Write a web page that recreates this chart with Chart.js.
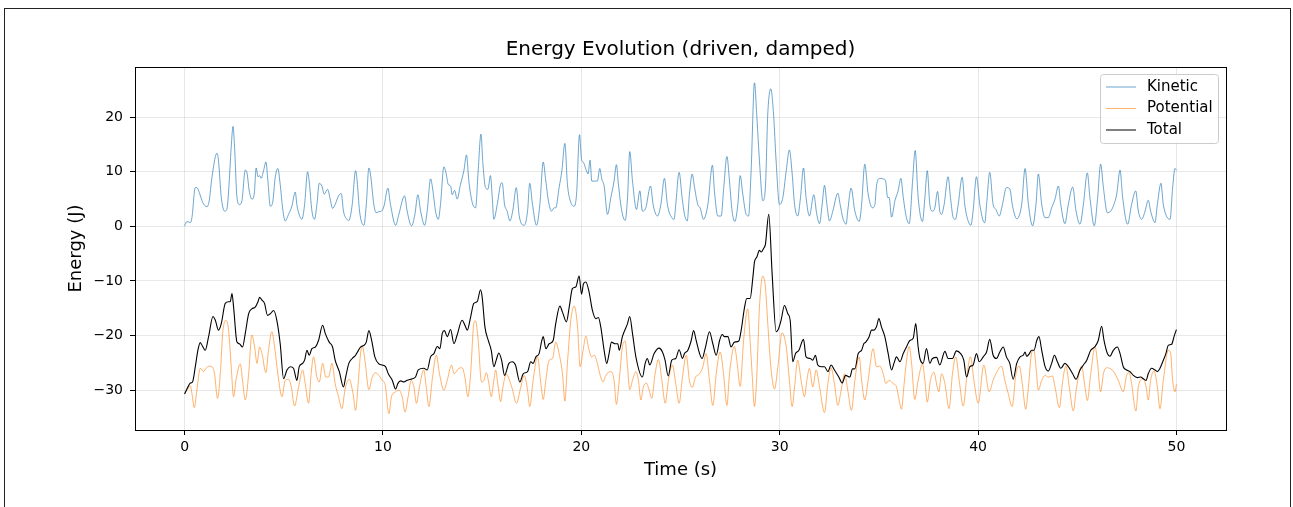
<!DOCTYPE html>
<html>
<head>
<meta charset="utf-8">
<script src="https://cdn.jsdelivr.net/npm/chart.js@4.4.0/dist/chart.umd.min.js"></script>
<style>
html, body { margin: 0; padding: 0; background: #fff; }
#wrap { position: relative; width: 1293px; height: 507px; overflow: hidden; }
#frame { position: absolute; left: 4px; top: 8px; width: 1285px; height: 600px; border: 1px solid #222; }
#energyChart { position: absolute; left: 0; top: 0; }
</style>
</head>
<body>
<div id="wrap">
  <div id="frame"></div>
  <canvas id="energyChart" width="1293" height="507"></canvas>
</div>
<script>
// values: [time (s), energy (J)]
const kineticPts = [[0,0.1],[0.12,0.9],[0.29,0.7],[0.37,1.6],[0.54,7.1],[0.62,7.1],[0.74,6.2],[0.91,4.4],[1.13,3.6],[1.24,4.7],[1.38,9.0],[1.63,13.4],[1.71,12.0],[1.85,5.3],[2.02,2.8],[2.13,3.1],[2.22,6.5],[2.35,14.5],[2.44,18.3],[2.52,14.5],[2.64,5.3],[2.77,4.0],[2.89,4.7],[3.06,10.3],[3.14,9.9],[3.26,6.5],[3.39,5.0],[3.51,5.9],[3.61,10.7],[3.70,9.1],[3.78,9.3],[3.86,8.8],[3.98,10.2],[4.10,11.8],[4.20,8.3],[4.32,3.7],[4.44,4.4],[4.57,9.0],[4.70,10.6],[4.82,7.7],[4.94,3.4],[5.07,1.0],[5.24,2.2],[5.41,3.7],[5.58,6.3],[5.66,4.0],[5.75,2.5],[5.91,1.3],[6.05,4.0],[6.20,10.0],[6.28,8.3],[6.42,2.8],[6.55,1.3],[6.67,4.0],[6.79,7.9],[6.92,7.4],[7.04,5.9],[7.21,6.8],[7.34,5.0],[7.46,3.3],[7.59,4.0],[7.76,5.6],[7.90,6.0],[8.01,2.8],[8.18,1.3],[8.28,1.1],[8.45,4.0],[8.62,10.2],[8.70,8.3],[8.82,2.8],[9.04,0.2],[9.16,4.0],[9.29,10.7],[9.37,9.6],[9.54,4.0],[9.66,2.5],[9.80,2.7],[9.93,2.8],[10.05,3.7],[10.25,7.0],[10.38,4.0],[10.64,0.2],[10.80,2.2],[11.09,5.6],[11.22,2.8],[11.44,0.1],[11.61,2.2],[11.76,5.8],[11.90,2.8],[12.10,0.2],[12.23,2.8],[12.40,8.7],[12.52,6.5],[12.65,2.8],[12.79,1.3],[12.90,4.0],[13.07,10.9],[13.19,9.6],[13.29,7.7],[13.41,7.4],[13.49,5.8],[13.61,6.6],[13.74,5.0],[13.91,7.7],[14.08,10.2],[14.21,13.1],[14.33,8.3],[14.50,4.4],[14.67,3.4],[14.80,10.2],[14.94,16.9],[15.04,11.4],[15.17,7.1],[15.29,6.8],[15.42,9.3],[15.51,5.3],[15.59,1.3],[15.76,4.0],[15.93,7.7],[16.01,8.0],[16.13,4.0],[16.26,2.8],[16.40,1.0],[16.55,3.0],[16.72,7.1],[16.87,1.9],[17.12,0.2],[17.29,2.8],[17.40,7.9],[17.54,4.0],[17.74,0.2],[17.91,4.0],[18.08,11.8],[18.21,8.3],[18.34,4.7],[18.50,2.8],[18.63,3.4],[18.71,3.4],[18.88,7.1],[19.02,10.2],[19.17,15.2],[19.30,7.7],[19.47,4.4],[19.64,3.7],[19.76,5.9],[19.91,16.8],[20.01,12.3],[20.11,11.7],[20.23,10.5],[20.34,9.6],[20.44,12.1],[20.53,8.3],[20.65,8.3],[20.81,8.3],[20.93,10.6],[21.03,8.7],[21.15,7.4],[21.32,2.2],[21.49,5.3],[21.65,8.3],[21.77,11.3],[21.87,7.7],[22.04,2.8],[22.21,1.1],[22.33,5.3],[22.44,13.7],[22.58,8.3],[22.78,3.1],[22.95,6.5],[23.08,2.8],[23.25,3.4],[23.49,7.4],[23.62,4.0],[23.84,1.9],[24.01,4.0],[24.19,8.8],[24.34,4.0],[24.56,1.6],[24.68,1.3],[24.76,4.0],[24.93,9.9],[25.08,5.3],[25.20,2.2],[25.34,1.0],[25.45,5.9],[25.59,9.6],[25.71,7.1],[25.87,4.0],[25.99,3.4],[26.16,1.3],[26.38,4.0],[26.61,11.2],[26.71,6.5],[26.88,1.9],[27.05,1.9],[27.18,7.1],[27.34,12.8],[27.47,8.3],[27.60,2.8],[27.74,0.9],[27.89,4.0],[28.01,9.3],[28.14,5.9],[28.31,2.2],[28.43,1.9],[28.56,10.2],[28.73,26.3],[28.85,20.0],[28.98,12.0],[29.15,4.7],[29.28,7.1],[29.40,20.6],[29.55,25.2],[29.69,20.6],[29.82,12.0],[29.99,4.0],[30.16,5.3],[30.33,10.2],[30.49,14.0],[30.63,9.6],[30.75,4.0],[30.91,1.9],[31.05,5.3],[31.20,10.7],[31.33,5.3],[31.50,1.9],[31.72,5.8],[31.87,2.2],[32.01,0.5],[32.14,4.0],[32.26,7.5],[32.38,4.0],[32.51,1.0],[32.68,2.8],[32.93,6.1],[33.05,4.0],[33.18,1.6],[33.35,0.4],[33.43,2.8],[33.60,7.0],[33.79,2.8],[34.01,0.9],[34.13,4.0],[34.29,11.4],[34.46,5.9],[34.68,3.4],[34.80,4.0],[34.88,7.4],[35.05,8.8],[35.22,8.7],[35.34,8.3],[35.44,5.3],[35.52,5.3],[35.64,1.7],[35.81,4.7],[35.97,6.5],[36.11,8.8],[36.23,5.3],[36.39,1.6],[36.53,0.5],[36.70,8.3],[36.83,13.9],[36.98,5.3],[37.20,0.9],[37.32,5.3],[37.44,10.2],[37.57,4.0],[37.70,2.8],[37.82,3.4],[37.96,6.4],[38.07,2.8],[38.16,2.2],[38.29,4.0],[38.49,9.1],[38.61,5.3],[38.75,1.6],[38.86,1.3],[39.00,4.0],[39.20,9.0],[39.33,4.0],[39.50,1.0],[39.64,0.2],[39.75,2.8],[39.92,9.1],[40.09,4.0],[40.26,1.0],[40.34,0.7],[40.43,4.0],[40.59,9.9],[40.76,4.0],[40.90,3.1],[41.07,1.9],[41.23,4.0],[41.43,7.1],[41.60,6.9],[41.74,3.7],[41.95,1.4],[42.20,4.0],[42.37,10.6],[42.54,4.0],[42.75,0.1],[42.92,4.0],[43.04,9.6],[43.21,4.0],[43.38,1.6],[43.54,1.6],[43.71,3.4],[43.88,5.0],[44.05,7.4],[44.17,4.0],[44.38,0.5],[44.55,4.0],[44.77,7.2],[44.94,2.8],[45.14,0.4],[45.31,4.0],[45.51,9.8],[45.64,5.3],[45.86,0.1],[46.03,5.3],[46.18,11.4],[46.32,7.1],[46.52,2.5],[46.69,2.8],[46.85,4.0],[46.99,5.9],[47.16,10.3],[47.29,5.3],[47.54,0.4],[47.74,4.0],[47.95,6.5],[48.08,2.8],[48.25,1.3],[48.42,2.8],[48.58,4.8],[48.70,2.8],[48.92,0.7],[49.04,4.0],[49.22,7.9],[49.34,4.0],[49.68,1.3],[49.81,7.1],[49.93,10.6],[50.0,10.3]];

const potentialPts = [[0,-30.7],[0.17,-29.7],[0.29,-29.2],[0.37,-30.6],[0.49,-33.2],[0.62,-30.0],[0.79,-26.0],[0.96,-26.6],[1.08,-26.0],[1.21,-25.6],[1.38,-25.7],[1.51,-27.0],[1.66,-31.5],[1.80,-27.0],[1.92,-19.6],[2.08,-17.2],[2.22,-19.0],[2.35,-25.7],[2.47,-31.2],[2.59,-28.2],[2.81,-25.2],[2.92,-28.2],[3.06,-31.8],[3.23,-27.0],[3.39,-19.9],[3.53,-22.1],[3.65,-25.1],[3.78,-22.1],[3.90,-23.3],[4.10,-26.8],[4.23,-22.7],[4.40,-19.3],[4.54,-22.1],[4.70,-27.0],[4.91,-31.2],[5.07,-28.2],[5.24,-28.0],[5.38,-29.4],[5.54,-32.9],[5.75,-29.4],[5.95,-26.3],[6.08,-28.8],[6.25,-32.4],[6.38,-27.0],[6.50,-23.9],[6.67,-27.6],[6.79,-28.5],[6.96,-25.1],[7.12,-27.6],[7.26,-27.6],[7.43,-25.1],[7.59,-28.8],[7.76,-31.2],[7.93,-33.4],[8.10,-29.6],[8.30,-28.0],[8.49,-30.6],[8.62,-33.7],[8.75,-28.8],[8.87,-23.3],[8.96,-22.0],[9.09,-24.5],[9.29,-29.9],[9.46,-27.6],[9.63,-26.8],[9.80,-27.3],[9.96,-28.2],[10.10,-28.8],[10.30,-34.3],[10.43,-31.2],[10.64,-30.3],[10.80,-30.0],[10.97,-31.2],[11.11,-34.0],[11.27,-31.2],[11.42,-28.2],[11.56,-29.4],[11.69,-32.4],[11.84,-29.4],[12.06,-26.3],[12.18,-29.4],[12.32,-33.0],[12.48,-28.2],[12.69,-23.6],[12.85,-27.0],[13.07,-30.0],[13.24,-28.2],[13.46,-25.4],[13.58,-27.0],[13.83,-26.0],[13.99,-25.9],[14.13,-27.6],[14.28,-31.2],[14.42,-27.0],[14.58,-17.8],[14.67,-17.3],[14.80,-20.9],[14.97,-28.5],[15.09,-28.2],[15.21,-26.8],[15.34,-28.8],[15.46,-31.2],[15.59,-28.2],[15.68,-26.3],[15.81,-29.4],[15.93,-32.1],[16.05,-29.4],[16.21,-27.1],[16.50,-29.5],[16.73,-32.4],[16.95,-29.4],[17.12,-27.3],[17.29,-30.0],[17.40,-33.0],[17.57,-28.2],[17.79,-23.9],[17.96,-28.8],[18.08,-31.7],[18.21,-28.2],[18.38,-24.5],[18.55,-24.2],[18.71,-21.2],[18.88,-23.3],[19.05,-27.0],[19.17,-32.0],[19.30,-25.1],[19.47,-17.2],[19.64,-14.6],[19.81,-18.4],[19.94,-25.7],[20.09,-22.7],[20.23,-20.1],[20.36,-22.1],[20.51,-23.9],[20.65,-23.6],[20.81,-25.1],[20.93,-27.0],[21.10,-28.5],[21.23,-27.3],[21.49,-26.6],[21.65,-28.2],[21.77,-32.6],[21.91,-28.2],[22.07,-22.1],[22.21,-21.0],[22.33,-25.7],[22.44,-29.9],[22.58,-28.2],[22.75,-26.6],[22.88,-28.2],[23.00,-31.8],[23.13,-29.4],[23.28,-28.7],[23.42,-30.0],[23.55,-31.5],[23.72,-27.0],[23.89,-24.4],[24.06,-28.2],[24.23,-32.4],[24.39,-28.2],[24.59,-25.4],[24.76,-28.8],[24.93,-32.4],[25.10,-27.6],[25.29,-23.6],[25.45,-28.2],[25.59,-29.5],[25.76,-27.6],[25.96,-27.0],[26.13,-25.7],[26.29,-23.3],[26.46,-28.2],[26.63,-32.8],[26.80,-27.0],[27.00,-23.0],[27.17,-27.0],[27.34,-32.8],[27.47,-27.0],[27.72,-22.0],[27.84,-24.5],[28.01,-29.3],[28.18,-20.9],[28.39,-15.1],[28.51,-20.9],[28.61,-27.0],[28.73,-33.0],[28.85,-27.0],[28.98,-14.8],[29.15,-9.1],[29.28,-11.1],[29.40,-17.8],[29.57,-26.3],[29.74,-29.8],[29.91,-25.7],[30.12,-19.5],[30.33,-22.1],[30.49,-28.2],[30.63,-33.0],[30.75,-29.4],[30.91,-24.5],[31.08,-28.2],[31.25,-31.2],[31.37,-28.2],[31.50,-26.0],[31.67,-29.4],[31.84,-26.3],[32.01,-29.4],[32.26,-34.1],[32.43,-28.8],[32.59,-25.9],[32.76,-28.8],[32.93,-32.8],[33.10,-30.0],[33.27,-27.0],[33.43,-30.0],[33.62,-33.7],[33.79,-28.2],[34.01,-23.9],[34.13,-28.2],[34.29,-31.8],[34.46,-28.2],[34.71,-22.4],[34.88,-25.7],[35.05,-25.6],[35.22,-27.0],[35.35,-28.8],[35.52,-28.2],[35.72,-28.8],[35.89,-29.4],[36.02,-31.8],[36.14,-33.5],[36.26,-29.4],[36.36,-25.7],[36.53,-22.0],[36.65,-25.1],[36.81,-31.7],[36.98,-28.2],[37.20,-25.2],[37.32,-28.2],[37.44,-32.2],[37.60,-28.2],[37.77,-26.7],[37.94,-29.4],[38.02,-30.3],[38.16,-27.0],[38.33,-28.8],[38.54,-33.4],[38.71,-27.0],[38.88,-23.9],[39.05,-28.2],[39.25,-32.9],[39.45,-27.0],[39.62,-23.9],[39.79,-28.2],[40.01,-32.4],[40.29,-25.4],[40.56,-30.3],[40.76,-28.2],[40.96,-26.6],[41.18,-25.6],[41.35,-28.2],[41.52,-30.6],[41.72,-33.0],[41.91,-27.0],[42.08,-25.6],[42.25,-29.4],[42.40,-33.5],[42.54,-29.4],[42.70,-23.2],[42.82,-22.7],[42.92,-25.7],[43.04,-30.0],[43.21,-28.2],[43.38,-27.3],[43.54,-27.6],[43.75,-27.4],[43.88,-29.4],[44.10,-33.2],[44.27,-28.2],[44.43,-25.6],[44.60,-29.4],[44.80,-33.8],[44.97,-29.4],[45.22,-25.6],[45.39,-29.4],[45.51,-31.9],[45.68,-27.0],[45.90,-22.0],[46.01,-24.5],[46.18,-30.3],[46.32,-27.0],[46.48,-25.9],[46.69,-26.1],[46.85,-26.7],[47.07,-28.2],[47.32,-30.3],[47.49,-27.3],[47.63,-26.8],[47.74,-28.8],[47.96,-33.8],[48.08,-29.4],[48.33,-27.9],[48.47,-29.4],[48.58,-31.8],[48.70,-28.2],[48.87,-26.5],[49.04,-29.4],[49.17,-33.4],[49.34,-28.2],[49.59,-22.7],[49.71,-23.3],[49.81,-28.2],[49.93,-30.3],[50.0,-28.9]];

const totalPts = [[0,-30.7],[0.17,-29.4],[0.29,-28.7],[0.40,-28.5],[0.54,-25.7],[0.67,-22.7],[0.79,-21.3],[0.91,-22.0],[1.04,-22.7],[1.21,-20.2],[1.43,-16.5],[1.55,-17.2],[1.71,-19.0],[1.85,-17.8],[2.05,-14.1],[2.22,-13.8],[2.30,-13.8],[2.39,-12.3],[2.47,-14.8],[2.64,-21.2],[2.76,-21.5],[2.92,-22.1],[3.06,-19.6],[3.23,-16.0],[3.39,-15.1],[3.56,-14.8],[3.70,-13.8],[3.78,-13.0],[3.90,-13.5],[4.03,-14.1],[4.18,-16.3],[4.32,-16.0],[4.49,-15.4],[4.65,-17.2],[4.82,-21.5],[4.99,-27.9],[5.16,-26.3],[5.33,-25.7],[5.49,-26.0],[5.66,-28.2],[5.78,-25.7],[5.95,-25.1],[6.05,-24.5],[6.17,-22.7],[6.28,-23.6],[6.42,-22.4],[6.59,-22.1],[6.75,-20.9],[6.96,-18.1],[7.09,-19.6],[7.29,-21.2],[7.46,-22.1],[7.59,-24.5],[7.80,-26.6],[8.01,-29.4],[8.12,-27.6],[8.28,-25.1],[8.45,-24.2],[8.62,-23.6],[8.75,-22.8],[8.87,-22.1],[9.04,-21.8],[9.16,-21.2],[9.29,-19.1],[9.43,-20.9],[9.59,-23.9],[9.80,-25.2],[9.96,-25.4],[10.13,-25.7],[10.27,-27.0],[10.47,-28.2],[10.64,-29.8],[10.75,-28.8],[10.89,-28.3],[11.06,-28.5],[11.22,-28.2],[11.48,-27.9],[11.64,-27.6],[11.78,-26.3],[12.06,-26.0],[12.23,-26.3],[12.40,-23.9],[12.57,-23.3],[12.74,-22.0],[12.87,-22.4],[12.99,-19.6],[13.10,-19.1],[13.24,-20.2],[13.41,-18.9],[13.58,-21.5],[13.74,-19.9],[13.99,-17.2],[14.13,-18.1],[14.25,-19.0],[14.42,-16.6],[14.58,-14.1],[14.75,-13.8],[14.92,-11.6],[15.00,-12.9],[15.14,-18.4],[15.31,-20.9],[15.46,-22.7],[15.59,-25.7],[15.71,-24.5],[15.84,-23.2],[15.98,-24.5],[16.13,-27.3],[16.35,-25.1],[16.52,-24.8],[16.68,-25.4],[16.90,-28.5],[17.07,-27.0],[17.29,-26.6],[17.45,-24.8],[17.57,-25.1],[17.71,-23.9],[17.87,-23.3],[18.01,-20.9],[18.08,-20.2],[18.21,-22.4],[18.38,-21.5],[18.58,-20.9],[18.71,-17.8],[18.92,-14.6],[19.05,-15.7],[19.25,-17.5],[19.39,-14.8],[19.55,-11.4],[19.72,-11.1],[19.89,-9.1],[20.01,-12.4],[20.11,-10.5],[20.23,-10.2],[20.39,-12.0],[20.56,-15.4],[20.73,-16.9],[20.86,-16.7],[20.98,-18.4],[21.15,-22.7],[21.28,-25.1],[21.40,-23.3],[21.52,-21.2],[21.70,-21.5],[21.84,-21.5],[21.91,-22.7],[22.07,-20.2],[22.33,-17.8],[22.44,-16.5],[22.58,-19.6],[22.75,-23.9],[23.08,-27.6],[23.22,-25.1],[23.33,-24.2],[23.45,-25.4],[23.67,-23.3],[23.92,-22.3],[24.09,-23.0],[24.22,-24.5],[24.38,-27.4],[24.56,-24.5],[24.76,-24.2],[24.93,-22.6],[25.10,-24.2],[25.20,-23.3],[25.37,-22.7],[25.54,-20.9],[25.66,-19.1],[25.79,-20.9],[25.96,-23.3],[26.09,-24.2],[26.26,-22.1],[26.46,-19.3],[26.63,-21.5],[26.80,-23.6],[26.97,-20.9],[27.10,-19.8],[27.22,-20.2],[27.39,-20.2],[27.55,-22.1],[27.72,-21.2],[27.94,-21.0],[28.06,-19.0],[28.23,-14.8],[28.34,-13.2],[28.51,-13.2],[28.65,-9.3],[28.73,-6.5],[28.85,-5.6],[28.98,-4.4],[29.07,-4.7],[29.18,-4.1],[29.28,-3.3],[29.45,2.2],[29.62,-8.7],[29.82,-19.3],[29.91,-19.0],[30.07,-17.2],[30.24,-14.5],[30.41,-16.0],[30.53,-17.2],[30.66,-24.8],[30.80,-23.3],[30.97,-22.7],[31.20,-20.7],[31.33,-23.9],[31.54,-24.2],[31.67,-24.5],[31.80,-23.6],[31.92,-25.4],[32.09,-25.7],[32.26,-25.7],[32.43,-26.6],[32.59,-25.4],[32.76,-26.3],[32.98,-27.6],[33.15,-28.7],[33.32,-27.3],[33.54,-27.6],[33.67,-26.1],[33.79,-26.1],[33.96,-23.3],[34.13,-22.7],[34.24,-21.5],[34.34,-21.2],[34.51,-20.2],[34.63,-19.0],[34.75,-19.0],[34.88,-18.4],[35.00,-16.9],[35.13,-18.4],[35.30,-20.2],[35.47,-23.3],[35.64,-26.3],[35.76,-25.1],[35.89,-23.9],[36.06,-24.8],[36.23,-23.3],[36.39,-22.1],[36.56,-20.9],[36.73,-20.5],[36.86,-17.8],[36.98,-22.1],[37.07,-24.2],[37.23,-25.1],[37.40,-22.4],[37.57,-25.1],[37.70,-24.2],[37.91,-24.0],[38.07,-25.4],[38.33,-22.9],[38.49,-24.2],[38.71,-24.2],[38.91,-22.8],[39.12,-23.3],[39.28,-24.5],[39.42,-27.6],[39.59,-25.7],[39.75,-25.4],[39.92,-23.3],[40.06,-24.8],[40.26,-23.9],[40.43,-23.0],[40.59,-20.7],[40.76,-23.6],[40.93,-24.2],[41.10,-23.0],[41.27,-22.1],[41.43,-23.9],[41.60,-25.1],[41.77,-28.0],[41.95,-25.1],[42.12,-23.9],[42.28,-23.6],[42.37,-23.0],[42.45,-23.8],[42.59,-23.3],[42.70,-22.7],[42.82,-22.7],[42.96,-20.9],[43.07,-20.2],[43.21,-22.7],[43.38,-25.7],[43.54,-26.5],[43.71,-25.1],[43.85,-23.6],[44.00,-24.8],[44.17,-26.0],[44.38,-25.1],[44.55,-25.7],[44.77,-27.0],[44.94,-28.0],[45.14,-26.3],[45.31,-25.4],[45.48,-24.5],[45.68,-22.7],[45.90,-22.0],[46.06,-20.9],[46.23,-18.3],[46.35,-20.9],[46.52,-23.3],[46.65,-23.8],[46.82,-22.7],[47.02,-22.1],[47.16,-23.3],[47.32,-25.7],[47.49,-26.3],[47.66,-26.6],[47.83,-27.3],[48.03,-27.7],[48.20,-27.6],[48.33,-27.9],[48.47,-28.2],[48.58,-27.0],[48.75,-26.0],[48.92,-26.3],[49.04,-26.6],[49.17,-26.0],[49.31,-24.8],[49.47,-23.3],[49.59,-21.8],[49.76,-21.6],[49.88,-20.2],[50.0,-18.9]];

const seriesNames = ["Kinetic", "Potential", "Total"];
const xTicks = [0, 10, 20, 30, 40, 50];
const yTicks = [-30, -20, -10, 0, 10, 20];

const FONT = "DejaVu Sans";
const kinColor = "rgba(31,119,180,0.65)";
const potColor = "rgba(255,127,14,0.6)";
const totColor = "#000000";

function toXY(pts) {
    return pts.map(p => ({ x: p[0], y: p[1] }));
}

function fmtTick(v) {
    return v < 0 ? "\u2212" + Math.abs(v) : String(v);
}

// title, axis labels, frame and legend drawn the matplotlib way
const decorPlugin = {
    id: "decor",
    afterDraw(chart) {
        let ctx = chart.ctx;
        let a = chart.chartArea;
        ctx.save();
        ctx.strokeStyle = "#000";
        ctx.lineWidth = 1;
        ctx.strokeRect(Math.round(a.left) + 0.5, Math.round(a.top) + 0.5, Math.round(a.right - a.left), Math.round(a.bottom - a.top));

        ctx.fillStyle = "#000";
        ctx.textAlign = "center";
        ctx.textBaseline = "middle";
        ctx.font = "20px '" + FONT + "'";
        ctx.fillText("Energy Evolution (driven, damped)", (a.left + a.right) / 2, 50);
        ctx.font = "18px '" + FONT + "'";
        ctx.fillText("Time (s)", (a.left + a.right) / 2, 470);
        ctx.save();
        ctx.translate(76, (a.top + a.bottom) / 2);
        ctx.rotate(-Math.PI / 2);
        ctx.fillText("Energy (J)", 0, 0);
        ctx.restore();

        // legend box
        let lx = 1100, ly = 74, lw = 118, lh = 69;
        ctx.beginPath();
        ctx.roundRect(lx + 0.5, ly + 0.5, lw, lh, 3);
        ctx.fillStyle = "rgba(255,255,255,0.8)";
        ctx.fill();
        ctx.strokeStyle = "#cccccc";
        ctx.stroke();
        let colors = [kinColor, potColor, totColor];
        ctx.font = "15px '" + FONT + "'";
        ctx.textAlign = "left";
        seriesNames.forEach((name, i) => {
            let yy = 87 + i * 21.5;
            ctx.strokeStyle = colors[i];
            ctx.lineWidth = 1;
            ctx.beginPath();
            ctx.moveTo(1106, yy);
            ctx.lineTo(1136, yy);
            ctx.stroke();
            ctx.fillStyle = "#000";
            ctx.fillText(name, 1147, yy);
        });
        ctx.restore();
    }
};

let ctx = document.getElementById("energyChart").getContext("2d");
let energyChart = new Chart(ctx, {
    type: "line",
    data: {
        datasets: [
            {
                label: seriesNames[0],
                data: toXY(kineticPts),
                borderColor: kinColor,
                borderWidth: 1,
                order: 3
            },
            {
                label: seriesNames[1],
                data: toXY(potentialPts),
                borderColor: potColor,
                borderWidth: 1,
                order: 2
            },
            {
                label: seriesNames[2],
                data: toXY(totalPts),
                borderColor: totColor,
                borderWidth: 1.1,
                order: 1
            }
        ]
    },
    options: {
        responsive: false,
        animation: false,
        devicePixelRatio: 1,
        parsing: false,
        layout: { padding: { left: 0, right: 67, top: 67, bottom: 0 } },
        elements: {
            point: { radius: 0 },
            line: { cubicInterpolationMode: "monotone", fill: false }
        },
        plugins: {
            legend: { display: false },
            title: { display: false },
            tooltip: { enabled: false }
        },
        scales: {
            x: {
                type: "linear",
                min: -2.5,
                max: 52.5,
                afterBuildTicks: axis => { axis.ticks = xTicks.map(v => ({ value: v })); },
                afterFit: axis => { axis.height = 77; },
                border: { display: false },
                grid: { color: "rgba(0,0,0,0.09)", tickColor: "#000", tickLength: 5 },
                ticks: {
                    color: "#000",
                    font: { family: FONT, size: 14 },
                    padding: 4,
                    maxRotation: 0,
                    callback: v => fmtTick(v)
                }
            },
            y: {
                type: "linear",
                min: -37.3,
                max: 29.2,
                afterBuildTicks: axis => { axis.ticks = yTicks.map(v => ({ value: v })); },
                afterFit: axis => { axis.width = 135; },
                border: { display: false },
                grid: { color: "rgba(0,0,0,0.09)", tickColor: "#000", tickLength: 5 },
                ticks: {
                    color: "#000",
                    font: { family: FONT, size: 14 },
                    padding: 7,
                    callback: v => fmtTick(v)
                }
            }
        }
    },
    plugins: [decorPlugin]
});
</script>
</body>
</html>
